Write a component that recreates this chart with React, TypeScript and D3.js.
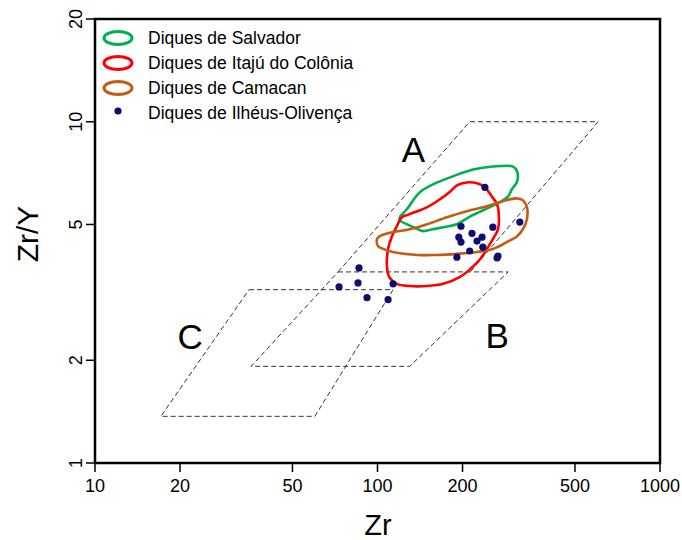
import React from 'react';
import * as d3 from 'd3';

// Pearce & Norry style Zr/Y vs Zr diagram
const xTicks = [10, 20, 50, 100, 200, 500, 1000];
const yTicks = [1, 2, 5, 10, 20];

// dashed discrimination fields [Zr, Zr/Y]
// A shares its lower edge with B, so it is drawn open
const fieldA = [[72.5, 3.63], [212, 10], [604, 10], [213, 3.63]];
const fieldB = [[72.5, 3.63], [290, 3.63], [130, 1.92], [35.7, 1.92]];
const fieldC = [[35.1, 3.22], [113.5, 3.22], [60, 1.37], [17.1, 1.37]];

const fieldLabels = [
  { text: 'A', zr: 134, zry: 7.6 },
  { text: 'B', zr: 265, zry: 2.17 },
  { text: 'C', zr: 21.7, zry: 2.16 },
];

// outlines of the dike groups
const salvador = [
  [120, 5.25], [127, 5.54], [141, 6.21], [157, 6.55], [185, 6.92], [218, 7.24],
  [256, 7.39], [302, 7.39], [312, 7.15], [312, 6.68], [299, 6.34], [290, 6.04],
  [271, 5.81], [250, 5.62], [213, 5.28], [191, 5.01], [171, 4.91], [157, 4.84],
  [145, 4.78], [136, 4.88], [127, 5.01], [120, 5.14],
];

const itaju = [
  [122, 5.25], [130, 5.36], [150, 5.62], [166, 5.92], [181, 6.25], [191, 6.51],
  [207, 6.64], [225, 6.6], [240, 6.42], [254, 6.04], [265, 5.73], [269, 5.28],
  [267, 4.84], [256, 4.53], [244, 4.24], [231, 3.96], [213, 3.7], [196, 3.51],
  [171, 3.35], [150, 3.3], [130, 3.3], [117, 3.35], [110, 3.51], [108, 3.78],
  [109, 4.24], [112.5, 4.62], [117, 4.94],
];

const camacan = [
  [99.6, 4.53], [102, 4.62], [113.5, 4.75], [130, 4.84], [150, 5.01], [176, 5.25],
  [207, 5.47], [244, 5.65], [278, 5.85], [312, 5.96], [327, 5.89], [338, 5.62],
  [338, 5.18], [327, 4.84], [312, 4.62], [287, 4.44], [256, 4.24], [225, 4.15],
  [191, 4.1], [162, 4.07], [138, 4.07], [113.5, 4.15], [104.6, 4.24], [100.4, 4.32],
];

// Ilhéus-Olivença samples
const ilheusZr = [240, 319, 197.5, 216, 194, 197.5, 225, 234.5, 256, 236, 212, 191, 267, 265, 113.5, 86, 85.3, 73.1, 91.8, 109];
const ilheusZrY = [6.42, 5.08, 4.94, 4.71, 4.59, 4.44, 4.47, 4.59, 4.91, 4.29, 4.18, 4.01, 4.04, 3.99, 3.35, 3.73, 3.37, 3.28, 3.05, 3.01];

const legendItems = [
  { label: 'Diques de Salvador', color: '#00b050', kind: 'ring' },
  { label: 'Diques de Itajú do Colônia', color: '#ff0000', kind: 'ring' },
  { label: 'Diques de Camacan', color: '#c55a11', kind: 'ring' },
  { label: 'Diques de Ilhéus-Olivença', color: '#0d0d73', kind: 'dot' },
];

const font = "'Liberation Sans', Arial, sans-serif";

export default function App() {
  const width = 682;
  const height = 540;
  const left = 95, right = 660, top = 19, bottom = 463;

  const x = d3.scaleLog().domain([10, 1000]).range([left, right]);
  const y = d3.scaleLog().domain([1, 20]).range([bottom, top]);

  const pts = (p: number[][]) =>
    p.map((d) => `${x(d[0])},${y(d[1])}`).join(' ');

  const contour = d3
    .line<number[]>()
    .x((d) => x(d[0]))
    .y((d) => y(d[1]))
    .curve(d3.curveCatmullRomClosed.alpha(0.5));

  const groups = [
    { pts: salvador, color: '#00b050' },
    { pts: itaju, color: '#ff0000' },
    { pts: camacan, color: '#c55a11' },
  ];

  const dash = { fill: 'none', stroke: '#333', strokeWidth: 1, strokeDasharray: '5,3' };

  return (
    <svg
      width={width}
      height={height}
      style={{ position: 'absolute', left: 0, top: 0, background: '#fff' }}
      fontFamily={font}
    >
      <rect x={0} y={0} width={width} height={height} fill="#fff" />

      {/* fields */}
      <polyline points={pts(fieldA)} {...dash} />
      <polygon points={pts(fieldB)} {...dash} />
      <polygon points={pts(fieldC)} {...dash} />

      {fieldLabels.map((l) => (
        <text key={l.text} x={x(l.zr)} y={y(l.zry)} fontSize={35} textAnchor="middle" fill="#000">
          {l.text}
        </text>
      ))}

      {groups.map((g, i) => (
        <path key={i} d={contour(g.pts) || ''} fill="none" stroke={g.color} strokeWidth={2.6} />
      ))}

      {ilheusZr.map((zr, i) => (
        <circle key={i} cx={x(zr)} cy={y(ilheusZrY[i])} r={3.6} fill="#0d0d73" />
      ))}

      {/* frame */}
      <rect x={left} y={top} width={right - left} height={bottom - top} fill="none" stroke="#000" strokeWidth={2.5} />

      {/* x axis */}
      {xTicks.map((t) => (
        <g key={t}>
          <line x1={x(t)} x2={x(t)} y1={bottom} y2={bottom + 9} stroke="#000" strokeWidth={1.5} />
          <text x={x(t)} y={bottom + 29} fontSize={18} textAnchor="middle" fill="#000">
            {t}
          </text>
        </g>
      ))}
      <text x={378} y={535} fontSize={29} textAnchor="middle" fill="#000">Zr</text>

      {/* y axis */}
      {yTicks.map((t) => (
        <g key={t}>
          <line x1={left - 9} x2={left} y1={y(t)} y2={y(t)} stroke="#000" strokeWidth={1.5} />
          <text
            transform={`translate(${left - 13},${y(t)}) rotate(-90)`}
            fontSize={18}
            textAnchor="middle"
            fill="#000"
          >
            {t}
          </text>
        </g>
      ))}
      <text transform="translate(38,234) rotate(-90)" fontSize={30} textAnchor="middle" fill="#000">
        Zr/Y
      </text>

      {/* legend */}
      {legendItems.map((it, i) => {
        const cy = 38 + i * 25;
        return (
          <g key={it.label}>
            {it.kind === 'ring' ? (
              <ellipse cx={118} cy={cy} rx={14} ry={6.5} fill="none" stroke={it.color} strokeWidth={3} />
            ) : (
              <circle cx={118} cy={cy - 2} r={3.6} fill={it.color} />
            )}
            <text x={148} y={cy + 6} fontSize={17.5} fill="#000">
              {it.label}
            </text>
          </g>
        );
      })}
    </svg>
  );
}
